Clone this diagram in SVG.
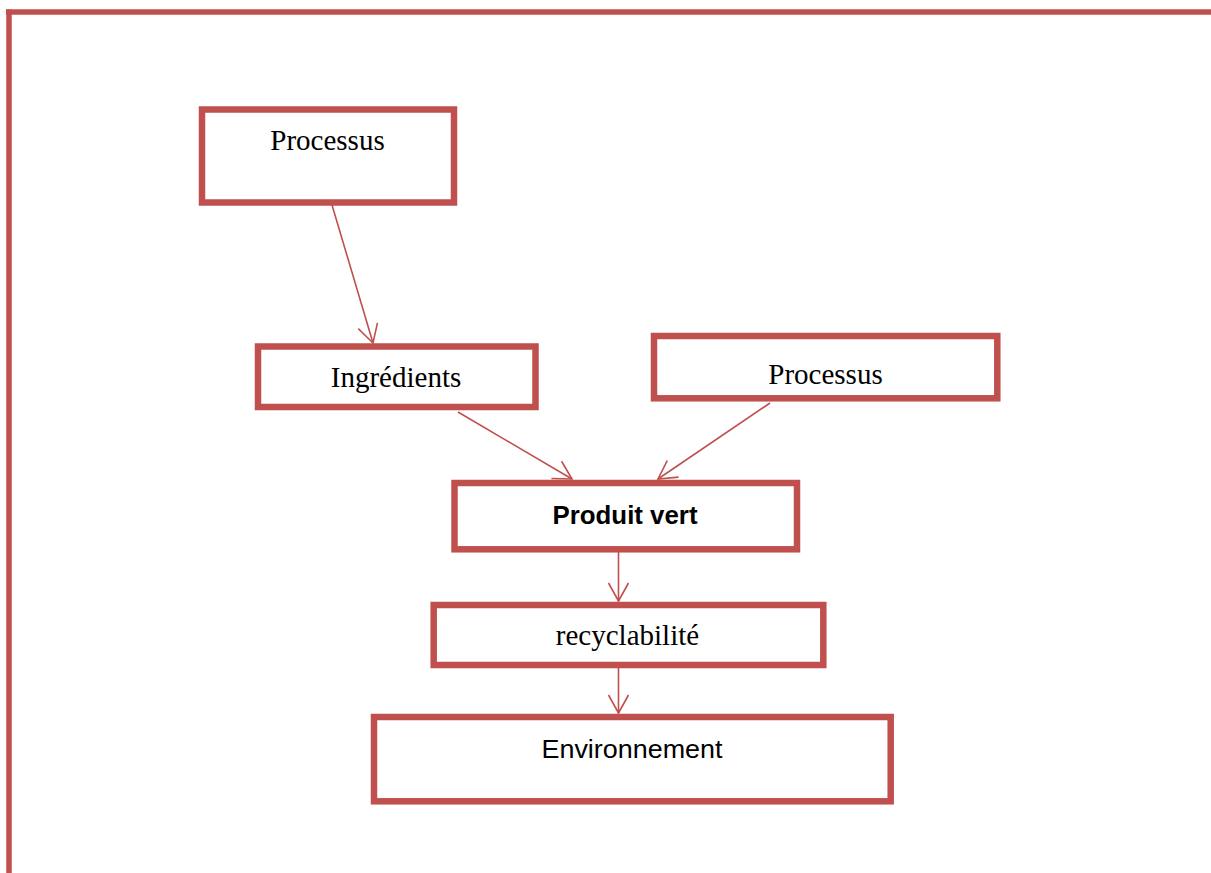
<svg xmlns="http://www.w3.org/2000/svg" width="1211" height="873" viewBox="0 0 1211 873">
<style>
.box{fill:#fff;stroke:#C0504D;stroke-width:6.5}
.frame{stroke:#C0504D;stroke-width:5.5;fill:none}
.conn{stroke:#C0504D;stroke-width:1.6;fill:none}
.serif{font-family:"Liberation Serif","Times New Roman",serif;font-size:29px;fill:#000;text-anchor:middle}
.sans{font-family:"Liberation Sans",Arial,sans-serif;fill:#000;text-anchor:middle}
</style>
<defs>
<marker id="arr" markerUnits="userSpaceOnUse" viewBox="-20 -12 22 24" refX="0" refY="0" markerWidth="22" markerHeight="24" orient="auto">
<path d="M-18,-10 L0,0 L-18,10" fill="none" stroke="#C0504D" stroke-width="1.6"/>
</marker>
</defs>
<rect width="1211" height="873" fill="#fff"/>
<g id="frame">
<line class="frame" x1="6" y1="12" x2="1211" y2="12"/>
<line class="frame" x1="9" y1="9.5" x2="9" y2="873"/>
</g>
<g id="connectors">
<line class="conn" x1="332" y1="205" x2="373" y2="343" marker-end="url(#arr)"/>
<line class="conn" x1="458" y1="412" x2="572" y2="479" marker-end="url(#arr)"/>
<line class="conn" x1="770" y1="403" x2="658" y2="479" marker-end="url(#arr)"/>
<line class="conn" x1="618.5" y1="552" x2="618.5" y2="601" marker-end="url(#arr)"/>
<line class="conn" x1="618.5" y1="668" x2="618.5" y2="713" marker-end="url(#arr)"/>
</g>
<g id="processus1">
<rect class="box" x="202" y="109.5" width="252" height="93" stroke-width="6"/>
<text class="serif" x="327.5" y="150">Processus</text>
</g>
<g id="ingredients">
<rect class="box" x="258" y="346.5" width="277.5" height="60.5" stroke-width="6"/>
<text class="serif" x="396" y="386.5">Ingrédients</text>
</g>
<g id="processus2">
<rect class="box" x="654" y="336" width="343.3" height="62.3"/>
<text class="serif" x="825.5" y="384">Processus</text>
</g>
<g id="produit-vert">
<rect class="box" x="454.5" y="483" width="342.5" height="66.3"/>
<text class="sans" x="625" y="524" font-size="26" font-weight="bold" textLength="145" lengthAdjust="spacingAndGlyphs">Produit vert</text>
</g>
<g id="recyclabilite">
<rect class="box" x="433.7" y="605" width="389.6" height="60"/>
<text class="serif" x="627.5" y="645">recyclabilité</text>
</g>
<g id="environnement">
<rect class="box" x="374" y="717" width="516.7" height="84.3" stroke-width="7"/>
<text class="sans" x="632" y="757.5" font-size="25" textLength="181" lengthAdjust="spacingAndGlyphs">Environnement</text>
</g>
</svg>
